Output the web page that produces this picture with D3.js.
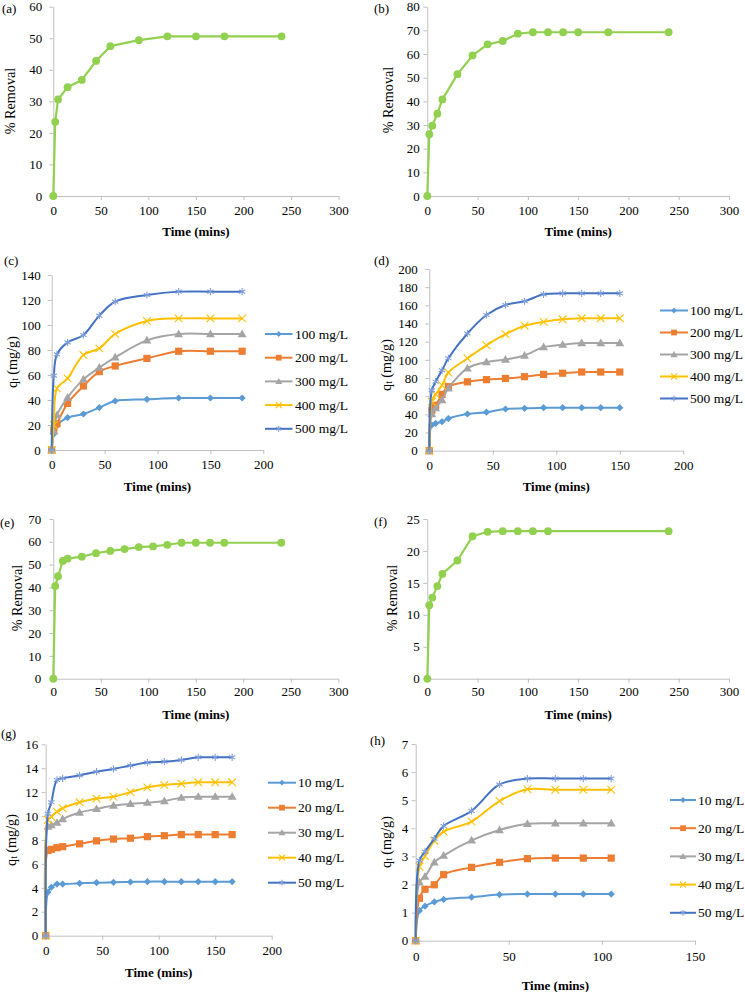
<!DOCTYPE html>
<html>
<head>
<meta charset="utf-8">
<script src="https://cdn.jsdelivr.net/npm/d3@7"></script>
<style>
  html, body { margin: 0; padding: 0; background: #fff; }
  svg { display: block; }
  text { font-family: "Liberation Serif", "Times New Roman", serif; fill: #000; }
</style>
</head>
<body>
<svg id="chart" width="745" height="992"></svg>
<script>
// ---------------- DATA ----------------
const timeA = [0, 2, 5, 15, 30, 45, 60, 90, 120, 150, 180, 240];
const removalA = [0, 23.5, 30.6, 34.5, 36.8, 42.8, 47.5, 49.4, 50.6, 50.6, 50.6, 50.6];

const timeB = [0, 2, 5, 10, 15, 30, 45, 60, 75, 90, 105, 120, 135, 150, 180, 240];
const removalB = [0, 26.1, 29.7, 34.8, 40.8, 51.5, 59.4, 64.1, 65.5, 68.6, 69.2, 69.2, 69.2, 69.2, 69.2, 69.2];

const timeC = [0, 2, 5, 15, 30, 45, 60, 90, 120, 150, 180];
const c100 = [0, 12.8, 19.5, 25.9, 28.8, 33.9, 39.2, 40.5, 41.6, 41.6, 41.6];
const c200 = [0, 16, 21, 37.3, 51.2, 62.7, 67.2, 73.3, 79, 79, 79];
const c300 = [0, 15, 28, 41.9, 56.5, 65.9, 74.1, 87.7, 92.8, 92.8, 92.8];
const c400 = [0, 20, 49.3, 57.3, 76, 81.3, 92.8, 103.2, 105.3, 105.3, 105.3];
const c500 = [0, 59.5, 76.5, 86.1, 92, 107.5, 118.7, 124, 126.7, 126.7, 126.7];

const timeD = [0, 2, 5, 10, 15, 30, 45, 60, 75, 90, 105, 120, 135, 150];
const d100 = [0, 28.3, 30, 32, 35.4, 40.4, 42.4, 45.9, 46.6, 47.3, 47.3, 47.3, 47.3, 47.3];
const d200 = [0, 44.5, 50, 62, 70.5, 75.8, 78.2, 79.5, 81.5, 84, 85.3, 86.6, 86.6, 86.6];
const d300 = [0, 40.4, 47, 55.8, 68.7, 90.7, 97.5, 100.4, 104.8, 114, 116.7, 118.5, 118.5, 118.5];
const d400 = [0, 54, 62, 72, 86, 101.7, 116, 128.2, 137.5, 141.8, 144.6, 145.7, 145.7, 145.7];
const d500 = [0, 66.5, 76, 88.5, 101.7, 129, 149.4, 160.4, 164.5, 172.1, 173.2, 173.2, 173.2, 173.2];

const timeE = [0, 2, 5, 10, 15, 30, 45, 60, 75, 90, 105, 120, 135, 150, 165, 180, 240];
const removalE = [0, 40.6, 44.9, 51.6, 52.6, 53.5, 55, 56, 56.8, 57.7, 58, 58.7, 59.6, 59.6, 59.6, 59.6, 59.6];

const timeF = [0, 2, 5, 10, 15, 30, 45, 60, 75, 90, 105, 120, 240];
const removalF = [0, 11.5, 12.7, 14.5, 16.4, 18.5, 22.3, 23, 23.1, 23.1, 23.1, 23.1, 23.1];

const timeG = [0, 2, 5, 10, 15, 30, 45, 60, 75, 90, 105, 120, 135, 150, 165];
const g10 = [0, 3.65, 4.05, 4.32, 4.32, 4.38, 4.43, 4.46, 4.49, 4.52, 4.52, 4.52, 4.52, 4.52, 4.52];
const g20 = [0, 7.12, 7.22, 7.36, 7.44, 7.68, 7.93, 8.08, 8.15, 8.28, 8.36, 8.45, 8.45, 8.45, 8.45];
const g30 = [0, 9.12, 9.25, 9.45, 9.75, 10.3, 10.6, 10.88, 11.02, 11.12, 11.26, 11.54, 11.62, 11.62, 11.62];
const g40 = [0, 9.7, 9.95, 10.37, 10.65, 11.15, 11.46, 11.62, 12.0, 12.4, 12.6, 12.71, 12.82, 12.82, 12.82];
const g50 = [0, 10.2, 11.15, 13.02, 13.16, 13.4, 13.71, 13.94, 14.22, 14.47, 14.55, 14.69, 14.91, 14.91, 14.91];

const timeH = [0, 2, 5, 10, 15, 30, 45, 60, 75, 90, 105];
const h10 = [0, 1.07, 1.23, 1.38, 1.47, 1.55, 1.64, 1.66, 1.66, 1.66, 1.66];
const h20 = [0, 1.51, 1.83, 1.99, 2.35, 2.61, 2.79, 2.92, 2.94, 2.94, 2.94];
const h30 = [0, 2.08, 2.28, 2.79, 3.03, 3.57, 3.94, 4.16, 4.18, 4.18, 4.18];
const h40 = [0, 2.63, 3.01, 3.56, 3.88, 4.24, 4.97, 5.39, 5.37, 5.37, 5.37];
const h50 = [0, 2.85, 3.17, 3.63, 4.08, 4.62, 5.56, 5.77, 5.77, 5.77, 5.77];

const labelsHigh = ["100 mg/L", "200 mg/L", "300 mg/L", "400 mg/L", "500 mg/L"];
const labelsLow = ["10 mg/L", "20 mg/L", "30 mg/L", "40 mg/L", "50 mg/L"];

// ---------------- STYLE ----------------
const GREEN = "#92D050";
const seriesStyle = [
  { color: "#5B9BD5", shape: "diamond" },
  { color: "#ED7D31", shape: "square" },
  { color: "#A5A5A5", shape: "triangle" },
  { color: "#FFC000", shape: "times" },
  { color: "#4472C4", shape: "asterisk" }
];
const AXIS = "#BFBFBF";
const FONT = 13;

const svg = d3.select("#chart");
svg.append("rect").attr("width", 745).attr("height", 992).attr("fill", "#fff");

function drawMarker(g, shape, color, cx, cy, scale) {
  const s = scale || 1;
  if (shape === "circle") {
    g.append("circle").attr("cx", cx).attr("cy", cy).attr("r", 3.9 * s).attr("fill", color);
  } else if (shape === "diamond") {
    g.append("path").attr("d", d3.symbol(d3.symbolSquare, 26 * s * s)())
      .attr("transform", `translate(${cx},${cy}) rotate(45)`).attr("fill", color);
  } else if (shape === "square") {
    g.append("path").attr("d", d3.symbol(d3.symbolSquare, 52 * s * s)())
      .attr("transform", `translate(${cx},${cy})`).attr("fill", color);
  } else if (shape === "triangle") {
    g.append("path").attr("d", d3.symbol(d3.symbolTriangle, 34 * s * s)())
      .attr("transform", `translate(${cx},${cy + 0.6})`).attr("fill", color);
  } else if (shape === "times") {
    g.append("path").attr("d", d3.symbol(d3.symbolTimes, 40 * s * s)())
      .attr("transform", `translate(${cx},${cy})`).attr("fill", "none")
      .attr("stroke", color).attr("stroke-width", 1.1);
  } else if (shape === "asterisk") {
    g.append("path").attr("d", d3.symbol(d3.symbolAsterisk, 36 * s * s)())
      .attr("transform", `translate(${cx},${cy})`).attr("fill", "none")
      .attr("stroke", "#7f9edb").attr("stroke-width", 1.1);
  }
}

function panel(cfg) {
  const g = svg.append("g");
  const x = d3.scaleLinear().domain(cfg.xd).range([cfg.x0, cfg.x1]);
  const y = d3.scaleLinear().domain(cfg.yd).range([cfg.yB, cfg.yT]);

  const xAxis = d3.axisBottom(x)
    .tickValues(d3.range(cfg.xd[0], cfg.xd[1] + 0.001, cfg.xStep))
    .tickSize(4).tickSizeOuter(0).tickPadding(cfg.xPad)
    .tickFormat(d3.format("d"));
  const yAxis = d3.axisLeft(y)
    .tickValues(d3.range(cfg.yd[0], cfg.yd[1] + 0.001, cfg.yStep))
    .tickSize(4).tickSizeOuter(0).tickPadding(cfg.yPad)
    .tickFormat(d3.format("d"));

  const gx = g.append("g").attr("transform", `translate(0,${cfg.yB})`).call(xAxis);
  const gy = g.append("g").attr("transform", `translate(${cfg.x0},0)`).call(yAxis);
  [gx, gy].forEach(a => {
    a.select(".domain").attr("stroke", AXIS).attr("stroke-width", 1);
    a.selectAll(".tick line").attr("stroke", AXIS).attr("stroke-width", 1);
    a.selectAll(".tick text")
      .attr("font-family", '"Liberation Serif", serif')
      .attr("font-size", FONT).attr("fill", "#000");
  });

  // axis titles
  g.append("text").attr("x", (cfg.x0 + cfg.x1) / 2).attr("y", cfg.xTitleY)
    .attr("text-anchor", "middle").attr("dominant-baseline", "central")
    .attr("font-size", FONT).attr("font-weight", "bold").text("Time (mins)");

  const yt = g.append("text")
    .attr("transform", `translate(${cfg.yTitleX},${cfg.yTitleY}) rotate(-90)`)
    .attr("text-anchor", "middle").attr("dominant-baseline", "central")
    .attr("font-size", 14.2);
  if (cfg.yTitle === "q") {
    yt.append("tspan").text("q");
    yt.append("tspan").attr("font-size", 9.5).attr("dy", 3).text("t");
    yt.append("tspan").attr("dy", -3).text(" (mg/g)");
  } else {
    yt.text("% Removal");
  }

  // panel tag
  g.append("text").attr("x", cfg.tagX).attr("y", cfg.tagY)
    .attr("dominant-baseline", "central").attr("font-size", FONT).text(cfg.tag);

  // series
  cfg.series.forEach((s, i) => {
    const pts = s.values.map((v, k) => [s.times[k], v]);
    const line = d3.line()
      .x(d => x(d[0])).y(d => y(d[1]))
      .curve(cfg.smooth ? d3.curveCatmullRom.alpha(0.5) : d3.curveLinear);
    const sg = g.append("g");
    sg.append("path").attr("d", line(pts)).attr("fill", "none")
      .attr("stroke", s.color).attr("stroke-width", cfg.smooth ? 2 : 2.2)
      .attr("stroke-linejoin", "round");
    pts.forEach(p => drawMarker(sg, s.shape, s.color, x(p[0]), y(p[1]), 1));
  });

  // legend
  if (cfg.legend) {
    const L = cfg.legend;
    cfg.series.forEach((s, i) => {
      const ly = L.y0 + i * L.dy;
      const lg = g.append("g");
      lg.append("line").attr("x1", L.x0).attr("x2", L.x1).attr("y1", ly).attr("y2", ly)
        .attr("stroke", s.color).attr("stroke-width", 2);
      drawMarker(lg, s.shape, s.color, (L.x0 + L.x1) / 2, ly, 0.8);
      lg.append("text").attr("x", L.tx).attr("y", ly).attr("dominant-baseline", "central")
        .attr("font-size", 13.5).text(s.label);
    });
  }
}

function green(times, values) {
  return [{ times, values, color: GREEN, shape: "circle" }];
}
function multi(times, arrs, labels) {
  return arrs.map((vals, i) => ({
    times, values: vals, color: seriesStyle[i].color, shape: seriesStyle[i].shape, label: labels[i]
  }));
}

// (a)
panel({ tag: "(a)", tagX: 2, tagY: 8, x0: 53.3, x1: 338.6, yT: 6.7, yB: 196,
  xd: [0, 300], xStep: 50, yd: [0, 60], yStep: 10, xPad: 5.5, yPad: 7,
  xTitleY: 231, yTitle: "r", yTitleX: 10, yTitleY: 101, smooth: false,
  series: green(timeA, removalA) });
// (b)
panel({ tag: "(b)", tagX: 374, tagY: 8, x0: 427.3, x1: 729, yT: 6.7, yB: 196,
  xd: [0, 300], xStep: 50, yd: [0, 80], yStep: 10, xPad: 5.5, yPad: 3.5,
  xTitleY: 231, yTitle: "r", yTitleX: 388, yTitleY: 100, smooth: false,
  series: green(timeB, removalB) });
// (c)
panel({ tag: "(c)", tagX: 4, tagY: 260, x0: 51.7, x1: 263.3, yT: 275, yB: 450,
  xd: [0, 200], xStep: 50, yd: [0, 140], yStep: 20, xPad: 6, yPad: 7,
  xTitleY: 486, yTitle: "q", yTitleX: 12, yTitleY: 362, smooth: true,
  series: multi(timeC, [c100, c200, c300, c400, c500], labelsHigh),
  legend: { x0: 265, x1: 292.5, tx: 295, y0: 334, dy: 23.7 } });
// (d)
panel({ tag: "(d)", tagX: 374, tagY: 260, x0: 429.3, x1: 683.3, yT: 269, yB: 450.7,
  xd: [0, 200], xStep: 50, yd: [0, 200], yStep: 20, xPad: 6, yPad: 7.5,
  xTitleY: 486, yTitle: "q", yTitleX: 386, yTitleY: 365, smooth: true,
  series: multi(timeD, [d100, d200, d300, d400, d500], labelsHigh),
  legend: { x0: 660, x1: 688, tx: 690, y0: 310.5, dy: 22 } });
// (e)
panel({ tag: "(e)", tagX: 0, tagY: 522, x0: 53.3, x1: 338.3, yT: 519, yB: 678.7,
  xd: [0, 300], xStep: 50, yd: [0, 70], yStep: 10, xPad: 4, yPad: 8,
  xTitleY: 714, yTitle: "r", yTitleX: 17, yTitleY: 598, smooth: false,
  series: green(timeE, removalE) });
// (f)
panel({ tag: "(f)", tagX: 374, tagY: 521, x0: 427.3, x1: 729, yT: 519, yB: 678.7,
  xd: [0, 300], xStep: 50, yd: [0, 25], yStep: 5, xPad: 4, yPad: 3.5,
  xTitleY: 714, yTitle: "r", yTitleX: 392, yTitleY: 598, smooth: false,
  series: green(timeF, removalF) });
// (g)
panel({ tag: "(g)", tagX: 1, tagY: 733, x0: 45.7, x1: 271.7, yT: 744.3, yB: 935.7,
  xd: [0, 200], xStep: 50, yd: [0, 16], yStep: 2, xPad: 6.5, yPad: 3.5,
  xTitleY: 972, yTitle: "q", yTitleX: 11, yTitleY: 840, smooth: true,
  series: multi(timeG, [g10, g20, g30, g40, g50], labelsLow),
  legend: { x0: 268, x1: 296, tx: 298, y0: 782.7, dy: 25 } });
// (h)
panel({ tag: "(h)", tagX: 370, tagY: 740, x0: 415.7, x1: 695, yT: 744, yB: 940.7,
  xd: [0, 150], xStep: 50, yd: [0, 7], yStep: 1, xPad: 7, yPad: 3.5,
  xTitleY: 985, yTitle: "q", yTitleX: 386, yTitleY: 842, smooth: true,
  series: multi(timeH, [h10, h20, h30, h40, h50], labelsLow),
  legend: { x0: 670, x1: 696, tx: 698, y0: 800, dy: 28.2 } });
</script>
</body>
</html>
